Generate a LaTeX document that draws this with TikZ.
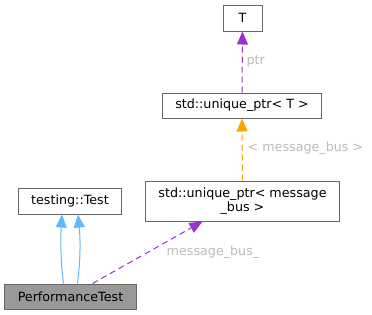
\documentclass[tikz,border=0pt]{standalone}
\usepackage{fontspec}
\setmainfont{DejaVu Sans}
\usetikzlibrary{arrows.meta}
\definecolor{edgegray}{HTML}{666666}
\definecolor{labelgray}{HTML}{BBBBBB}
\definecolor{usepurple}{HTML}{9A32CD}
\definecolor{tmplorange}{HTML}{FFA500}
\definecolor{inhblue}{HTML}{63B8FF}
\definecolor{curfill}{HTML}{999999}
\begin{document}
\begin{tikzpicture}[x=1bp,y=-1bp,
  box/.style={draw=edgegray,line width=1bp,fill=white,inner sep=0pt,
    font=\fontsize{12.7bp}{14.5bp}\selectfont,align=center},
  elabel/.style={text=labelgray,font=\fontsize{12.7bp}{14.5bp}\selectfont,inner sep=0pt},
  usage/.style={draw=usepurple,dashed,dash pattern=on 6bp off 4bp,line width=1bp,
    -{Triangle[length=13bp,width=11bp,fill=usepurple]}},
  tmpl/.style={draw=tmplorange,dashed,dash pattern=on 6bp off 4bp,line width=1bp,
    -{Triangle[length=13bp,width=11bp,fill=tmplorange]}},
  inh/.style={draw=inhblue,line width=1bp,
    -{Triangle[length=13bp,width=11bp,fill=inhblue]}}]
\useasboundingbox (0,0) rectangle (372,315);

% classes
\node[box,minimum width=39bp,minimum height=26bp] (T) at (242.5,18) {T};
\node[box,minimum width=158bp,minimum height=25bp] (uptrT) at (242,105.5) {std::unique\_ptr< T >};
\node[box,minimum width=193bp,minimum height=40bp] (uptrMB) at (242.5,201) {std::unique\_ptr< message\\\_bus >};
\node[box,minimum width=102bp,minimum height=26bp] (test) at (70,201) {testing::Test};
\node[box,fill=curfill,minimum width=131bp,minimum height=25bp] (perf) at (70.5,296.5) {PerformanceTest};

% inheritance
\draw[inh] ([xshift=-7bp]perf.north) .. controls (60.5,260) and (60.5,240) .. ([xshift=-8bp]test.south);
\draw[inh] ([xshift=7bp]perf.north) .. controls (80.5,260) and (80.5,240) .. ([xshift=8bp]test.south);

% members and template instance
\draw[usage] ([xshift=22bp]perf.north) -- ([xshift=-40bp]uptrMB.south);
\node[elabel] (lmb) at (213,252) {message\_bus\_};
\draw[tmpl] (uptrMB.north) -- (uptrT.south);
\node[elabel] (ltmpl) at (305.5,148.3) {< message\_bus >};
\draw[usage] (uptrT.north) -- (T.south);
\node[elabel] (lptr) at (255.7,61.7) {ptr};
\end{tikzpicture}
\end{document}
